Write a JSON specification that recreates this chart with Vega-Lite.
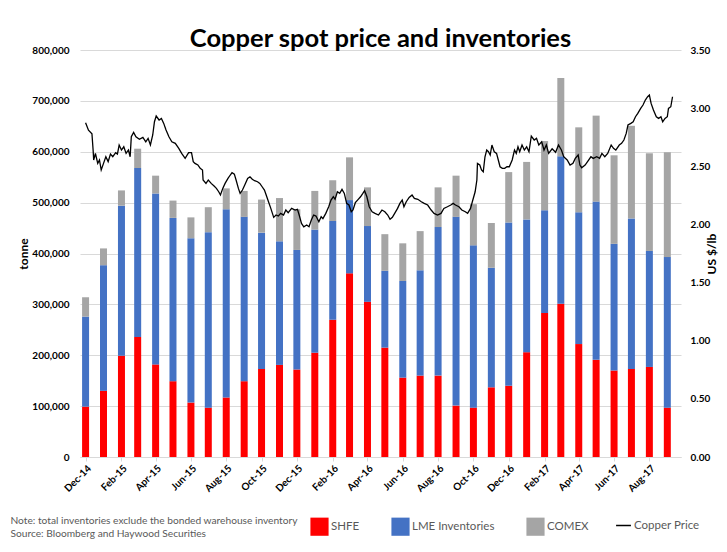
{
  "$schema": "https://vega.github.io/schema/vega-lite/v6.json",
  "width": 601,
  "height": 407,
  "autosize": {"type": "none"},
  "padding": {"left": 80, "top": 50, "right": 46, "bottom": 95},
  "background": "white",
  "config": {"font": "Lato", "view": {"stroke": null}},
  "title": {"text": "Copper spot price and inventories", "fontSize": 25.5, "fontWeight": "bold", "font": "Lato", "color": "#000000", "anchor": "middle", "offset": -7},
  "datasets": {
    "inv": [
      {"date": "2014-12-01", "SHFE": 99000, "LME Inventories": 177000, "COMEX": 38000},
      {"date": "2015-01-01", "SHFE": 130000, "LME Inventories": 247000, "COMEX": 33000},
      {"date": "2015-02-01", "SHFE": 199000, "LME Inventories": 295000, "COMEX": 30000},
      {"date": "2015-03-01", "SHFE": 236000, "LME Inventories": 332000, "COMEX": 38000},
      {"date": "2015-04-01", "SHFE": 182000, "LME Inventories": 336000, "COMEX": 35000},
      {"date": "2015-05-01", "SHFE": 149000, "LME Inventories": 321000, "COMEX": 34000},
      {"date": "2015-06-01", "SHFE": 107000, "LME Inventories": 323000, "COMEX": 41000},
      {"date": "2015-07-01", "SHFE": 97000, "LME Inventories": 345000, "COMEX": 49000},
      {"date": "2015-08-01", "SHFE": 117000, "LME Inventories": 370000, "COMEX": 41000},
      {"date": "2015-09-01", "SHFE": 149000, "LME Inventories": 323000, "COMEX": 51000},
      {"date": "2015-10-01", "SHFE": 173000, "LME Inventories": 268000, "COMEX": 65000},
      {"date": "2015-11-01", "SHFE": 181000, "LME Inventories": 243000, "COMEX": 85000},
      {"date": "2015-12-01", "SHFE": 172000, "LME Inventories": 235000, "COMEX": 80000},
      {"date": "2016-01-01", "SHFE": 205000, "LME Inventories": 242000, "COMEX": 76000},
      {"date": "2016-02-01", "SHFE": 270000, "LME Inventories": 194000, "COMEX": 80000},
      {"date": "2016-03-01", "SHFE": 361000, "LME Inventories": 144000, "COMEX": 84000},
      {"date": "2016-04-01", "SHFE": 305000, "LME Inventories": 149000, "COMEX": 76000},
      {"date": "2016-05-01", "SHFE": 215000, "LME Inventories": 151000, "COMEX": 72000},
      {"date": "2016-06-01", "SHFE": 156000, "LME Inventories": 190000, "COMEX": 74000},
      {"date": "2016-07-01", "SHFE": 160000, "LME Inventories": 207000, "COMEX": 77000},
      {"date": "2016-08-01", "SHFE": 160000, "LME Inventories": 292000, "COMEX": 78000},
      {"date": "2016-09-01", "SHFE": 101000, "LME Inventories": 371000, "COMEX": 81000},
      {"date": "2016-10-01", "SHFE": 97000, "LME Inventories": 319000, "COMEX": 81000},
      {"date": "2016-11-01", "SHFE": 137000, "LME Inventories": 235000, "COMEX": 88000},
      {"date": "2016-12-01", "SHFE": 140000, "LME Inventories": 321000, "COMEX": 99000},
      {"date": "2017-01-01", "SHFE": 206000, "LME Inventories": 261000, "COMEX": 113000},
      {"date": "2017-02-01", "SHFE": 283000, "LME Inventories": 202000, "COMEX": 136000},
      {"date": "2017-03-01", "SHFE": 301000, "LME Inventories": 290000, "COMEX": 154000},
      {"date": "2017-04-01", "SHFE": 222000, "LME Inventories": 259000, "COMEX": 167000},
      {"date": "2017-05-01", "SHFE": 191000, "LME Inventories": 311000, "COMEX": 169000},
      {"date": "2017-06-01", "SHFE": 170000, "LME Inventories": 249000, "COMEX": 174000},
      {"date": "2017-07-01", "SHFE": 173000, "LME Inventories": 296000, "COMEX": 182000},
      {"date": "2017-08-01", "SHFE": 177000, "LME Inventories": 228000, "COMEX": 192000},
      {"date": "2017-09-01", "SHFE": 97000, "LME Inventories": 296000, "COMEX": 206000}
    ],
    "price": [
      {"date": "2014-12-01", "price": 2.874}, {"date": "2014-12-06", "price": 2.81}, {"date": "2014-12-12", "price": 2.78},
      {"date": "2014-12-14", "price": 2.64}, {"date": "2014-12-15", "price": 2.554}, {"date": "2014-12-18", "price": 2.61},
      {"date": "2014-12-22", "price": 2.525}, {"date": "2014-12-25", "price": 2.554}, {"date": "2014-12-28", "price": 2.468},
      {"date": "2015-01-01", "price": 2.525}, {"date": "2015-01-05", "price": 2.582}, {"date": "2015-01-09", "price": 2.54},
      {"date": "2015-01-13", "price": 2.605}, {"date": "2015-01-17", "price": 2.582}, {"date": "2015-01-22", "price": 2.617},
      {"date": "2015-01-25", "price": 2.605}, {"date": "2015-01-28", "price": 2.683}, {"date": "2015-02-01", "price": 2.64},
      {"date": "2015-02-05", "price": 2.668}, {"date": "2015-02-09", "price": 2.611}, {"date": "2015-02-13", "price": 2.64},
      {"date": "2015-02-16", "price": 2.582}, {"date": "2015-02-18", "price": 2.754}, {"date": "2015-02-22", "price": 2.792},
      {"date": "2015-02-26", "price": 2.754}, {"date": "2015-03-04", "price": 2.732}, {"date": "2015-03-10", "price": 2.749},
      {"date": "2015-03-15", "price": 2.711}, {"date": "2015-03-19", "price": 2.74}, {"date": "2015-03-23", "price": 2.683},
      {"date": "2015-03-27", "price": 2.769}, {"date": "2015-03-30", "price": 2.883}, {"date": "2015-04-02", "price": 2.932},
      {"date": "2015-04-07", "price": 2.898}, {"date": "2015-04-11", "price": 2.912}, {"date": "2015-04-15", "price": 2.869},
      {"date": "2015-04-19", "price": 2.812}, {"date": "2015-04-24", "price": 2.754}, {"date": "2015-04-29", "price": 2.711},
      {"date": "2015-05-05", "price": 2.697}, {"date": "2015-05-11", "price": 2.654}, {"date": "2015-05-16", "price": 2.611},
      {"date": "2015-05-22", "price": 2.568}, {"date": "2015-05-28", "price": 2.617}, {"date": "2015-06-02", "price": 2.617},
      {"date": "2015-06-05", "price": 2.54}, {"date": "2015-06-08", "price": 2.525}, {"date": "2015-06-13", "price": 2.511},
      {"date": "2015-06-17", "price": 2.482}, {"date": "2015-06-21", "price": 2.468}, {"date": "2015-06-22", "price": 2.382},
      {"date": "2015-06-27", "price": 2.353}, {"date": "2015-07-01", "price": 2.382}, {"date": "2015-07-06", "price": 2.353},
      {"date": "2015-07-11", "price": 2.33}, {"date": "2015-07-15", "price": 2.31}, {"date": "2015-07-19", "price": 2.281},
      {"date": "2015-07-22", "price": 2.253}, {"date": "2015-07-26", "price": 2.31}, {"date": "2015-07-30", "price": 2.353},
      {"date": "2015-08-04", "price": 2.396}, {"date": "2015-08-08", "price": 2.425}, {"date": "2015-08-11", "price": 2.445},
      {"date": "2015-08-15", "price": 2.433}, {"date": "2015-08-18", "price": 2.382}, {"date": "2015-08-22", "price": 2.31},
      {"date": "2015-08-25", "price": 2.267}, {"date": "2015-08-29", "price": 2.296}, {"date": "2015-09-02", "price": 2.339},
      {"date": "2015-09-07", "price": 2.396}, {"date": "2015-09-11", "price": 2.41}, {"date": "2015-09-15", "price": 2.388},
      {"date": "2015-09-19", "price": 2.376}, {"date": "2015-09-24", "price": 2.367}, {"date": "2015-09-28", "price": 2.353},
      {"date": "2015-10-02", "price": 2.324}, {"date": "2015-10-06", "price": 2.296}, {"date": "2015-10-09", "price": 2.253},
      {"date": "2015-10-13", "price": 2.195}, {"date": "2015-10-17", "price": 2.138}, {"date": "2015-10-22", "price": 2.061},
      {"date": "2015-10-26", "price": 2.081}, {"date": "2015-10-30", "price": 2.072}, {"date": "2015-11-03", "price": 2.095},
      {"date": "2015-11-08", "price": 2.081}, {"date": "2015-11-12", "price": 2.124}, {"date": "2015-11-16", "price": 2.101},
      {"date": "2015-11-22", "price": 2.138}, {"date": "2015-11-28", "price": 2.124}, {"date": "2015-12-02", "price": 2.13},
      {"date": "2015-12-05", "price": 2.081}, {"date": "2015-12-09", "price": 2.009}, {"date": "2015-12-13", "price": 1.98},
      {"date": "2015-12-18", "price": 1.995}, {"date": "2015-12-22", "price": 1.98}, {"date": "2015-12-26", "price": 2.038},
      {"date": "2015-12-30", "price": 2.081}, {"date": "2016-01-03", "price": 2.072}, {"date": "2016-01-08", "price": 2.023},
      {"date": "2016-01-12", "price": 2.066}, {"date": "2016-01-15", "price": 2.05}, {"date": "2016-01-20", "price": 2.095},
      {"date": "2016-01-25", "price": 2.152}, {"date": "2016-01-29", "price": 2.21}, {"date": "2016-02-02", "price": 2.238},
      {"date": "2016-02-05", "price": 2.216}, {"date": "2016-02-09", "price": 2.281}, {"date": "2016-02-13", "price": 2.267},
      {"date": "2016-02-17", "price": 2.302}, {"date": "2016-02-21", "price": 2.267}, {"date": "2016-02-25", "price": 2.181},
      {"date": "2016-02-29", "price": 2.167}, {"date": "2016-03-04", "price": 2.109}, {"date": "2016-03-07", "price": 2.124},
      {"date": "2016-03-11", "price": 2.187}, {"date": "2016-03-16", "price": 2.216}, {"date": "2016-03-20", "price": 2.238},
      {"date": "2016-03-24", "price": 2.267}, {"date": "2016-03-27", "price": 2.29}, {"date": "2016-03-31", "price": 2.238},
      {"date": "2016-04-04", "price": 2.152}, {"date": "2016-04-09", "price": 2.109}, {"date": "2016-04-14", "price": 2.095},
      {"date": "2016-04-20", "price": 2.081}, {"date": "2016-04-26", "price": 2.124}, {"date": "2016-05-01", "price": 2.109},
      {"date": "2016-05-06", "price": 2.081}, {"date": "2016-05-10", "price": 2.044}, {"date": "2016-05-14", "price": 2.061},
      {"date": "2016-05-18", "price": 2.095}, {"date": "2016-05-23", "price": 2.138}, {"date": "2016-05-27", "price": 2.181},
      {"date": "2016-05-31", "price": 2.21}, {"date": "2016-06-03", "price": 2.152}, {"date": "2016-06-07", "price": 2.195},
      {"date": "2016-06-12", "price": 2.232}, {"date": "2016-06-17", "price": 2.253}, {"date": "2016-06-21", "price": 2.224},
      {"date": "2016-06-27", "price": 2.216}, {"date": "2016-07-03", "price": 2.195}, {"date": "2016-07-08", "price": 2.181},
      {"date": "2016-07-14", "price": 2.167}, {"date": "2016-07-20", "price": 2.124}, {"date": "2016-07-25", "price": 2.095},
      {"date": "2016-07-31", "price": 2.081}, {"date": "2016-08-06", "price": 2.095}, {"date": "2016-08-11", "price": 2.138},
      {"date": "2016-08-17", "price": 2.152}, {"date": "2016-08-23", "price": 2.167}, {"date": "2016-08-27", "price": 2.181},
      {"date": "2016-08-31", "price": 2.167}, {"date": "2016-09-06", "price": 2.152}, {"date": "2016-09-11", "price": 2.124},
      {"date": "2016-09-17", "price": 2.109}, {"date": "2016-09-21", "price": 2.095}, {"date": "2016-09-26", "price": 2.138},
      {"date": "2016-09-30", "price": 2.21}, {"date": "2016-10-04", "price": 2.281}, {"date": "2016-10-07", "price": 2.382},
      {"date": "2016-10-08", "price": 2.525}, {"date": "2016-10-12", "price": 2.511}, {"date": "2016-10-15", "price": 2.468},
      {"date": "2016-10-18", "price": 2.453}, {"date": "2016-10-21", "price": 2.582}, {"date": "2016-10-24", "price": 2.64},
      {"date": "2016-10-27", "price": 2.625}, {"date": "2016-10-30", "price": 2.597}, {"date": "2016-11-02", "price": 2.683},
      {"date": "2016-11-06", "price": 2.625}, {"date": "2016-11-10", "price": 2.611}, {"date": "2016-11-13", "price": 2.554},
      {"date": "2016-11-16", "price": 2.496}, {"date": "2016-11-20", "price": 2.482}, {"date": "2016-11-24", "price": 2.482},
      {"date": "2016-11-28", "price": 2.496}, {"date": "2016-12-02", "price": 2.496}, {"date": "2016-12-07", "price": 2.554},
      {"date": "2016-12-11", "price": 2.64}, {"date": "2016-12-14", "price": 2.611}, {"date": "2016-12-17", "price": 2.668},
      {"date": "2016-12-20", "price": 2.625}, {"date": "2016-12-24", "price": 2.683}, {"date": "2016-12-28", "price": 2.64},
      {"date": "2017-01-01", "price": 2.668}, {"date": "2017-01-05", "price": 2.625}, {"date": "2017-01-09", "price": 2.76},
      {"date": "2017-01-14", "price": 2.726}, {"date": "2017-01-18", "price": 2.74}, {"date": "2017-01-22", "price": 2.683},
      {"date": "2017-01-27", "price": 2.711}, {"date": "2017-01-31", "price": 2.64}, {"date": "2017-02-04", "price": 2.683},
      {"date": "2017-02-08", "price": 2.611}, {"date": "2017-02-14", "price": 2.65}, {"date": "2017-02-20", "price": 2.62},
      {"date": "2017-02-25", "price": 2.683}, {"date": "2017-03-02", "price": 2.64}, {"date": "2017-03-06", "price": 2.582},
      {"date": "2017-03-12", "price": 2.554}, {"date": "2017-03-17", "price": 2.511}, {"date": "2017-03-22", "price": 2.525},
      {"date": "2017-03-26", "price": 2.568}, {"date": "2017-03-31", "price": 2.597}, {"date": "2017-04-03", "price": 2.511},
      {"date": "2017-04-06", "price": 2.488}, {"date": "2017-04-12", "price": 2.511}, {"date": "2017-04-18", "price": 2.554},
      {"date": "2017-04-22", "price": 2.582}, {"date": "2017-04-26", "price": 2.568}, {"date": "2017-05-02", "price": 2.582},
      {"date": "2017-05-07", "price": 2.568}, {"date": "2017-05-11", "price": 2.611}, {"date": "2017-05-16", "price": 2.582},
      {"date": "2017-05-21", "price": 2.611}, {"date": "2017-05-27", "price": 2.683}, {"date": "2017-05-31", "price": 2.654},
      {"date": "2017-06-04", "price": 2.64}, {"date": "2017-06-10", "price": 2.683}, {"date": "2017-06-14", "price": 2.697},
      {"date": "2017-06-18", "price": 2.726}, {"date": "2017-06-22", "price": 2.783}, {"date": "2017-06-25", "price": 2.855},
      {"date": "2017-06-30", "price": 2.869}, {"date": "2017-07-04", "price": 2.883}, {"date": "2017-07-08", "price": 2.926},
      {"date": "2017-07-12", "price": 2.955}, {"date": "2017-07-17", "price": 2.998}, {"date": "2017-07-21", "price": 3.027},
      {"date": "2017-07-25", "price": 3.07}, {"date": "2017-07-29", "price": 3.098}, {"date": "2017-08-01", "price": 3.113},
      {"date": "2017-08-04", "price": 3.041}, {"date": "2017-08-08", "price": 2.984}, {"date": "2017-08-13", "price": 2.926},
      {"date": "2017-08-17", "price": 2.912}, {"date": "2017-08-21", "price": 2.926}, {"date": "2017-08-24", "price": 2.883},
      {"date": "2017-08-28", "price": 2.912}, {"date": "2017-09-01", "price": 2.926}, {"date": "2017-09-03", "price": 2.998},
      {"date": "2017-09-07", "price": 3.012}, {"date": "2017-09-10", "price": 3.098}
    ]
  },
  "encoding": {
    "x": {
      "field": "date",
      "type": "temporal",
      "scale": {"type": "utc", "domain": [{"year": 2014, "month": 11, "date": 30, "utc": true}, {"year": 2017, "month": 9, "date": 16, "utc": true}]},
      "axis": {
        "values": [
          {"year": 2014, "month": 12, "date": 1, "utc": true},
          {"year": 2015, "month": 2, "date": 1, "utc": true},
          {"year": 2015, "month": 4, "date": 1, "utc": true},
          {"year": 2015, "month": 6, "date": 1, "utc": true},
          {"year": 2015, "month": 8, "date": 1, "utc": true},
          {"year": 2015, "month": 10, "date": 1, "utc": true},
          {"year": 2015, "month": 12, "date": 1, "utc": true},
          {"year": 2016, "month": 2, "date": 1, "utc": true},
          {"year": 2016, "month": 4, "date": 1, "utc": true},
          {"year": 2016, "month": 6, "date": 1, "utc": true},
          {"year": 2016, "month": 8, "date": 1, "utc": true},
          {"year": 2016, "month": 10, "date": 1, "utc": true},
          {"year": 2016, "month": 12, "date": 1, "utc": true},
          {"year": 2017, "month": 2, "date": 1, "utc": true},
          {"year": 2017, "month": 4, "date": 1, "utc": true},
          {"year": 2017, "month": 6, "date": 1, "utc": true},
          {"year": 2017, "month": 8, "date": 1, "utc": true}
        ],
        "format": "%b-%y",
        "labelAngle": -45,
        "labelFont": "Lato",
        "labelFontWeight": "bold",
        "labelFontSize": 10,
        "labelColor": "#000000",
        "labelPadding": 2,
        "tickColor": "#d9d9d9",
        "tickSize": 4,
        "domainColor": "#d9d9d9",
        "grid": false,
        "title": ["Note: total inventories exclude the bonded warehouse inventory", "Source: Bloomberg and Haywood Securities"],
        "titleX": -70,
        "titleY": 58,
        "titleAlign": "left",
        "titleAnchor": "start",
        "titleBaseline": "top",
        "titleFont": "Lato",
        "titleFontSize": 10.2,
        "titleFontWeight": "normal",
        "titleColor": "#595959",
        "titleLineHeight": 13
      }
    }
  },
  "layer": [
    {
      "data": {"name": "inv"},
      "transform": [{"fold": ["SHFE", "LME Inventories", "COMEX"], "as": ["series", "value"]}],
      "mark": {"type": "bar", "width": 7, "clip": true},
      "encoding": {
        "y": {
          "field": "value",
          "type": "quantitative",
          "stack": "zero",
          "scale": {"domain": [0, 800000], "nice": false},
          "axis": {
            "title": "tonne",
            "format": ",.0f",
            "values": [0, 100000, 200000, 300000, 400000, 500000, 600000, 700000, 800000],
            "labelFont": "Lato",
            "labelFontWeight": "bold",
            "labelFontSize": 10,
            "labelColor": "#000000",
            "labelPadding": 11,
            "ticks": false,
            "domain": false,
            "gridColor": "#d9d9d9",
            "titleFont": "Lato",
            "titleFontSize": 12,
            "titleFontWeight": "bold",
            "titleColor": "#000000",
            "titlePadding": 1
          }
        },
        "color": {
          "field": "series",
          "type": "nominal",
          "scale": {"domain": ["SHFE", "LME Inventories", "COMEX"], "range": ["#FF0000", "#4472C4", "#A5A5A5"]},
          "legend": {
            "orient": "none",
            "legendX": 230,
            "legendY": 467,
            "direction": "horizontal",
            "title": null,
            "symbolType": "square",
            "symbolSize": 330,
            "symbolStrokeWidth": 0,
            "labelFont": "Lato",
            "labelFontSize": 11.5,
            "labelColor": "#595959",
            "labelOffset": 2,
            "columnPadding": 31
          }
        },
        "order": {"field": "series", "sort": "descending"}
      }
    },
    {
      "data": {"name": "price"},
      "mark": {"type": "line", "strokeWidth": 1.3, "clip": true},
      "encoding": {
        "y": {
          "field": "price",
          "type": "quantitative",
          "scale": {"domain": [0, 3.5], "nice": false},
          "axis": {
            "orient": "right",
            "title": "US $/lb",
            "titleAngle": 270,
            "format": ".2f",
            "values": [0, 0.5, 1, 1.5, 2, 2.5, 3, 3.5],
            "grid": false,
            "ticks": false,
            "domain": false,
            "labelFont": "Lato",
            "labelFontWeight": "bold",
            "labelFontSize": 10,
            "labelColor": "#000000",
            "labelPadding": 9,
            "titleFont": "Lato",
            "titleFontSize": 12,
            "titleFontWeight": "bold",
            "titleColor": "#000000",
            "titlePadding": 9
          }
        },
        "stroke": {
          "datum": "Copper Price",
          "type": "nominal",
          "scale": {"range": ["#000000"]},
          "legend": {
            "orient": "none",
            "legendX": 535,
            "legendY": 467,
            "title": null,
            "symbolType": "stroke",
            "symbolSize": 220,
            "symbolStrokeWidth": 1.5,
            "labelFont": "Lato",
            "labelFontSize": 11.5,
            "labelColor": "#595959",
            "labelOffset": 2
          }
        }
      }
    }
  ],
  "resolve": {"scale": {"y": "independent"}}
}
